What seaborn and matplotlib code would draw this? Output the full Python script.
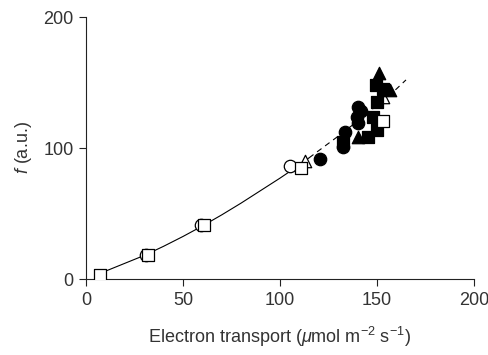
import matplotlib
matplotlib.use("Agg")
import matplotlib.pyplot as plt
import seaborn as sns

# ---- data ----
open_sq_x = [7, 32, 61, 111, 153]
open_sq_y = [3, 18, 41, 84.5, 121]
open_ci_x = [31, 59.5, 105]
open_ci_y = [18, 41, 86]
open_tr_x = [113, 153]
open_tr_y = [90, 139]
fill_ci_x = [120.6, 133.5, 132.6, 140.3, 139.5, 140.3, 142]
fill_ci_y = [92, 112.5, 101, 131.5, 124, 119, 128]
fill_sq_x = [132.6, 145.5, 149.8, 148, 149.8, 149.5, 153]
fill_sq_y = [104.8, 108.6, 114, 124, 135, 148, 145]
fill_tr_x = [140.3, 151.2, 157]
fill_tr_y = [108.6, 157, 144]

curve_solid_x = [5, 10, 20, 30, 40, 50, 60, 70, 80, 90, 100, 110, 115]
curve_solid_y = [3, 6, 12, 18, 25, 32.5, 40.5, 49, 58, 67.5, 77, 87, 92.5]
curve_dash_x = [115, 120, 130, 140, 150, 160, 165]
curve_dash_y = [92.5, 98, 109, 120.5, 132.5, 145, 152]

sns.set_theme(style="ticks")
plt.rcParams["font.family"] = ["Liberation Sans", "DejaVu Sans"]
plt.rcParams["mathtext.fontset"] = "custom"
plt.rcParams["mathtext.rm"] = "Liberation Sans"
plt.rcParams["mathtext.it"] = "Liberation Sans:italic"

txt = "#333333"
fig = plt.figure(figsize=(4.89, 3.55), dpi=100)
ax = fig.add_axes([0.176, 0.214, 0.793, 0.738])

sns.lineplot(x=curve_solid_x, y=curve_solid_y, ax=ax, color="black", lw=0.8, sort=False)
sns.lineplot(x=curve_dash_x, y=curve_dash_y, ax=ax, color="black", lw=0.8, sort=False)
ax.lines[-1].set_dashes([5, 4])

ms = 80
kw = dict(ax=ax, s=ms, edgecolor="black", linewidth=0.9, zorder=3)
sns.scatterplot(x=open_ci_x, y=open_ci_y, marker="o", color="white", **kw)
sns.scatterplot(x=fill_ci_x, y=fill_ci_y, marker="o", color="black", **kw)
sns.scatterplot(x=open_tr_x, y=open_tr_y, marker="^", color="white", **kw)
sns.scatterplot(x=fill_tr_x, y=fill_tr_y, marker="^", color="black", **kw)
sns.scatterplot(x=fill_sq_x, y=fill_sq_y, marker="s", color="black", **kw)
sns.scatterplot(x=open_sq_x, y=open_sq_y, marker="s", color="white", **kw)

ax.set_xlim(0, 200)
ax.set_ylim(0, 200)
ax.set_xticks([0, 50, 100, 150, 200])
ax.set_yticks([0, 100, 200])
ax.tick_params(direction="out", length=5, width=0.8, labelsize=13,
               color="#222222", labelcolor=txt, pad=4)
for s in ["top", "right"]:
    ax.spines[s].set_visible(False)
for s in ["left", "bottom"]:
    ax.spines[s].set_color("#222222")
    ax.spines[s].set_linewidth(0.8)
ax.set_xlabel("Electron transport ($\\mu$mol m$^{-2}$ s$^{-1}$)", fontsize=13,
              labelpad=12, color=txt)
ax.set_ylabel("$f$ (a.u.)", fontsize=13, labelpad=7, color=txt)

fig.savefig("out.png", dpi=100)
